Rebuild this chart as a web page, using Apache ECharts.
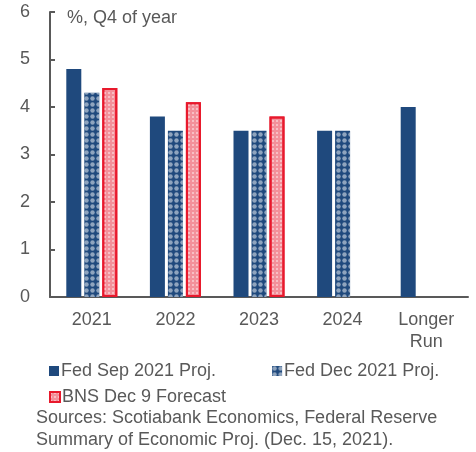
<!DOCTYPE html>
<html><head><meta charset="utf-8">
<script src="https://cdn.jsdelivr.net/npm/echarts@6/dist/echarts.min.js"></script>
<style>html,body{margin:0;padding:0;background:#fff}#c{width:476px;height:452px}</style>
</head><body><div id="c"></div>
<script>
const categories = ['2021', '2022', '2023', '2024', 'Longer\nRun'];
const fedSep = [4.8, 3.8, 3.5, 3.5, 4.0];
const fedDec = [4.3, 3.5, 3.5, 3.5, null];
const bnsDec = [4.4, 4.1, 3.8, null, null];
const yTicks = [0, 6, 1];
const seriesNames = ['Fed Sep 2021 Proj.', 'Fed Dec 2021 Proj.', 'BNS Dec 9 Forecast'];

const FONT = '"Liberation Sans", Arial, sans-serif';
const TXT = '#595959';
const BLUE = '#1f497d';
const RED = '#e8192c';

const chart = echarts.init(document.getElementById('c'), null, {renderer: 'canvas'});
chart.setOption({
  animation: false,
  textStyle: {fontFamily: FONT, color: TXT},
  title: {text: '%, Q4 of year', left: 62, top: 4,
    textStyle: {fontFamily: FONT, fontSize: 18, fontWeight: 'normal', color: TXT}},
  grid: {left: 50, right: 8, top: 12, bottom: 155, containLabel: false},
  legend: [
    {data: [seriesNames[0], seriesNames[1]], left: 44, top: 357, itemWidth: 10, itemHeight: 10,
     itemGap: 56, icon: 'rect', textStyle: {fontFamily: FONT, fontSize: 18, color: TXT, padding: [0,0,0,-3]}},
    {data: [seriesNames[2]], left: 44, top: 383, itemWidth: 10, itemHeight: 10,
     icon: 'rect', textStyle: {fontFamily: FONT, fontSize: 18, color: TXT, padding: [0,0,0,-3]}}
  ],
  xAxis: {
    type: 'category', data: categories,
    axisLine: {lineStyle: {color: TXT, width: 2}},
    axisTick: {inside: true, length: 5, lineStyle: {color: TXT, width: 2}},
    axisLabel: {fontFamily: FONT, fontSize: 18, color: TXT, margin: 12, lineHeight: 22}
  },
  yAxis: {
    type: 'value', min: yTicks[0], max: yTicks[1], interval: yTicks[2],
    axisLine: {show: true, lineStyle: {color: TXT, width: 2}},
    axisTick: {show: true, inside: true, length: 5, lineStyle: {color: TXT, width: 2}},
    splitLine: {show: false},
    axisLabel: {fontFamily: FONT, fontSize: 18, color: TXT, margin: 20}
  },
  series: [
    {name: seriesNames[0], type: 'bar', data: fedSep, barWidth: 15, barGap: '20%',
     itemStyle: {color: BLUE}},
    {name: seriesNames[1], type: 'bar', data: fedDec, barWidth: 15, barGap: '20%',
     itemStyle: {color: BLUE, decal: {symbol: 'circle', symbolSize: 0.9, color: 'rgba(255,255,255,0.5)',
       dashArrayX: [[5, 1]], dashArrayY: [5, 1], rotation: 0}}},
    {name: seriesNames[2], type: 'bar', data: bnsDec, barWidth: 15, barGap: '20%',
     itemStyle: {color: '#f3909a', borderColor: RED, borderWidth: 2,
       decal: {symbol: 'rect', symbolSize: 0.7, color: 'rgba(255,255,255,0.8)',
       dashArrayX: [[2, 2]], dashArrayY: [2, 2], rotation: 0}}}
  ],
  graphic: [
    {type: 'text', left: 36, top: 407, style: {text: 'Sources: Scotiabank Economics, Federal Reserve\nSummary of Economic Proj. (Dec. 15, 2021).',
      font: '18px ' + FONT, fill: TXT, lineHeight: 22}}
  ]
});
</script></body></html>
